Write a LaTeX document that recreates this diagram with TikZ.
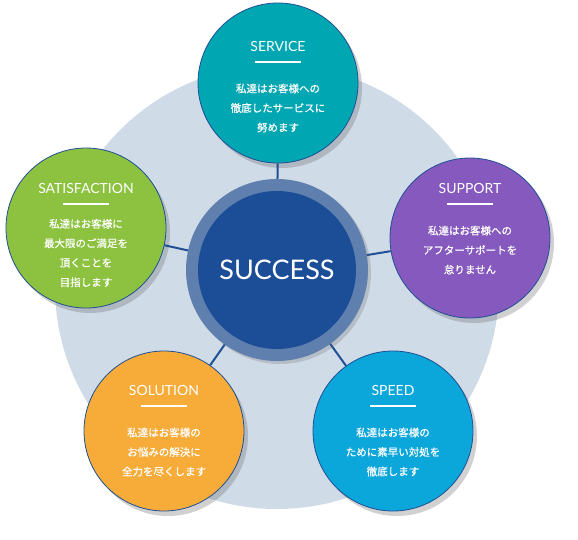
\documentclass[tikz,border=0pt]{standalone}
\usepackage{fontspec}
\setmainfont{Lato}
\newfontfamily\jp[FakeBold=0.7]{Noto Sans CJK JP}
\usetikzlibrary{shadows,calc}
\definecolor{bgc}{HTML}{D0DBE8}
\definecolor{ringc}{HTML}{5F7FAE}
\definecolor{corec}{HTML}{1C4E97}
\definecolor{linec}{HTML}{1F4F94}
\definecolor{servc}{HTML}{00A6B1}
\definecolor{suppc}{HTML}{8659BE}
\definecolor{satc}{HTML}{8CC23F}
\definecolor{solc}{HTML}{F7AC3A}
\definecolor{spdc}{HTML}{0BA6DA}
\tikzset{
  bubble/.style={circle, minimum size=160pt, inner sep=0pt, draw=linec, line width=0.8pt,
    drop shadow={shadow xshift=4pt, shadow yshift=-5pt, opacity=0.3, fill=black!60}},
  ttl/.style={text=white, font=\fontsize{14}{15}\selectfont},
  body/.style={text=white, font=\jp\fontsize{10.5}{19.5}\selectfont, align=center},
  uline/.style={white, line width=2pt},
  conn/.style={linec, line width=2pt}
}
\begin{document}
\begin{tikzpicture}[x=1pt,y=-1pt]
\useasboundingbox (0,0) rectangle (578,539);
\fill[bgc] (277,287) circle (222);
\coordinate (c) at (277,270);
\node[bubble, fill=servc] (serv) at (278,83) {};
\node[bubble, fill=suppc] (supp) at (470,238) {};
\node[bubble, fill=spdc] (spd) at (393,431) {};
\node[bubble, fill=solc] (sol) at (164,431) {};
\node[bubble, fill=satc] (sat) at (86,228) {};
\draw[conn] (c) -- (serv);
\draw[conn] (c) -- (supp);
\draw[conn] (c) -- (spd);
\draw[conn] (c) -- (sol);
\draw[conn] (c) -- (sat);
\node[circle, fill=ringc, minimum size=182pt, inner sep=0pt,
  drop shadow={shadow xshift=3pt, shadow yshift=-3pt, opacity=0.25, fill=black!60}] (ring) at (c) {};
\node[circle, fill=corec, minimum size=158pt, inner sep=0pt] (core) at (c) {};
\node[text=white, font=\fontsize{27}{28}\selectfont] (succ) at (c) {SUCCESS};
% SERVICE
\node[ttl] (t1) at (278,46) {SERVICE};
\coordinate (u1) at (278,62);
\draw[uline] ($(u1)+(-23,0)$) -- ($(u1)+(23,0)$);
\node[body] (b1) at (278,108) {私達はお客様への\\徹底したサービスに\\努めます};
% SUPPORT
\node[ttl] (t2) at (470,188) {SUPPORT};
\coordinate (u2) at (470,204);
\draw[uline] ($(u2)+(-23,0)$) -- ($(u2)+(23,0)$);
\node[body] (b2) at (470,250) {私達はお客様への\\アフターサポートを\\怠りません};
% SATISFACTION
\node[ttl] (t3) at (86,188) {SATISFACTION};
\coordinate (u3) at (86,204);
\draw[uline] ($(u3)+(-23,0)$) -- ($(u3)+(23,0)$);
\node[body] (b3) at (86,253) {私達はお客様に\\最大限のご満足を\\頂くことを\\目指します};
% SOLUTION
\node[ttl] (t4) at (164,390) {SOLUTION};
\coordinate (u4) at (164,406);
\draw[uline] ($(u4)+(-23,0)$) -- ($(u4)+(23,0)$);
\node[body] (b4) at (164,452) {私達はお客様の\\お悩みの解決に\\全力を尽くします};
% SPEED
\node[ttl] (t5) at (393,390) {SPEED};
\coordinate (u5) at (393,406);
\draw[uline] ($(u5)+(-23,0)$) -- ($(u5)+(23,0)$);
\node[body] (b5) at (393,452) {私達はお客様の\\ために素早い対処を\\徹底します};
\end{tikzpicture}
\end{document}
